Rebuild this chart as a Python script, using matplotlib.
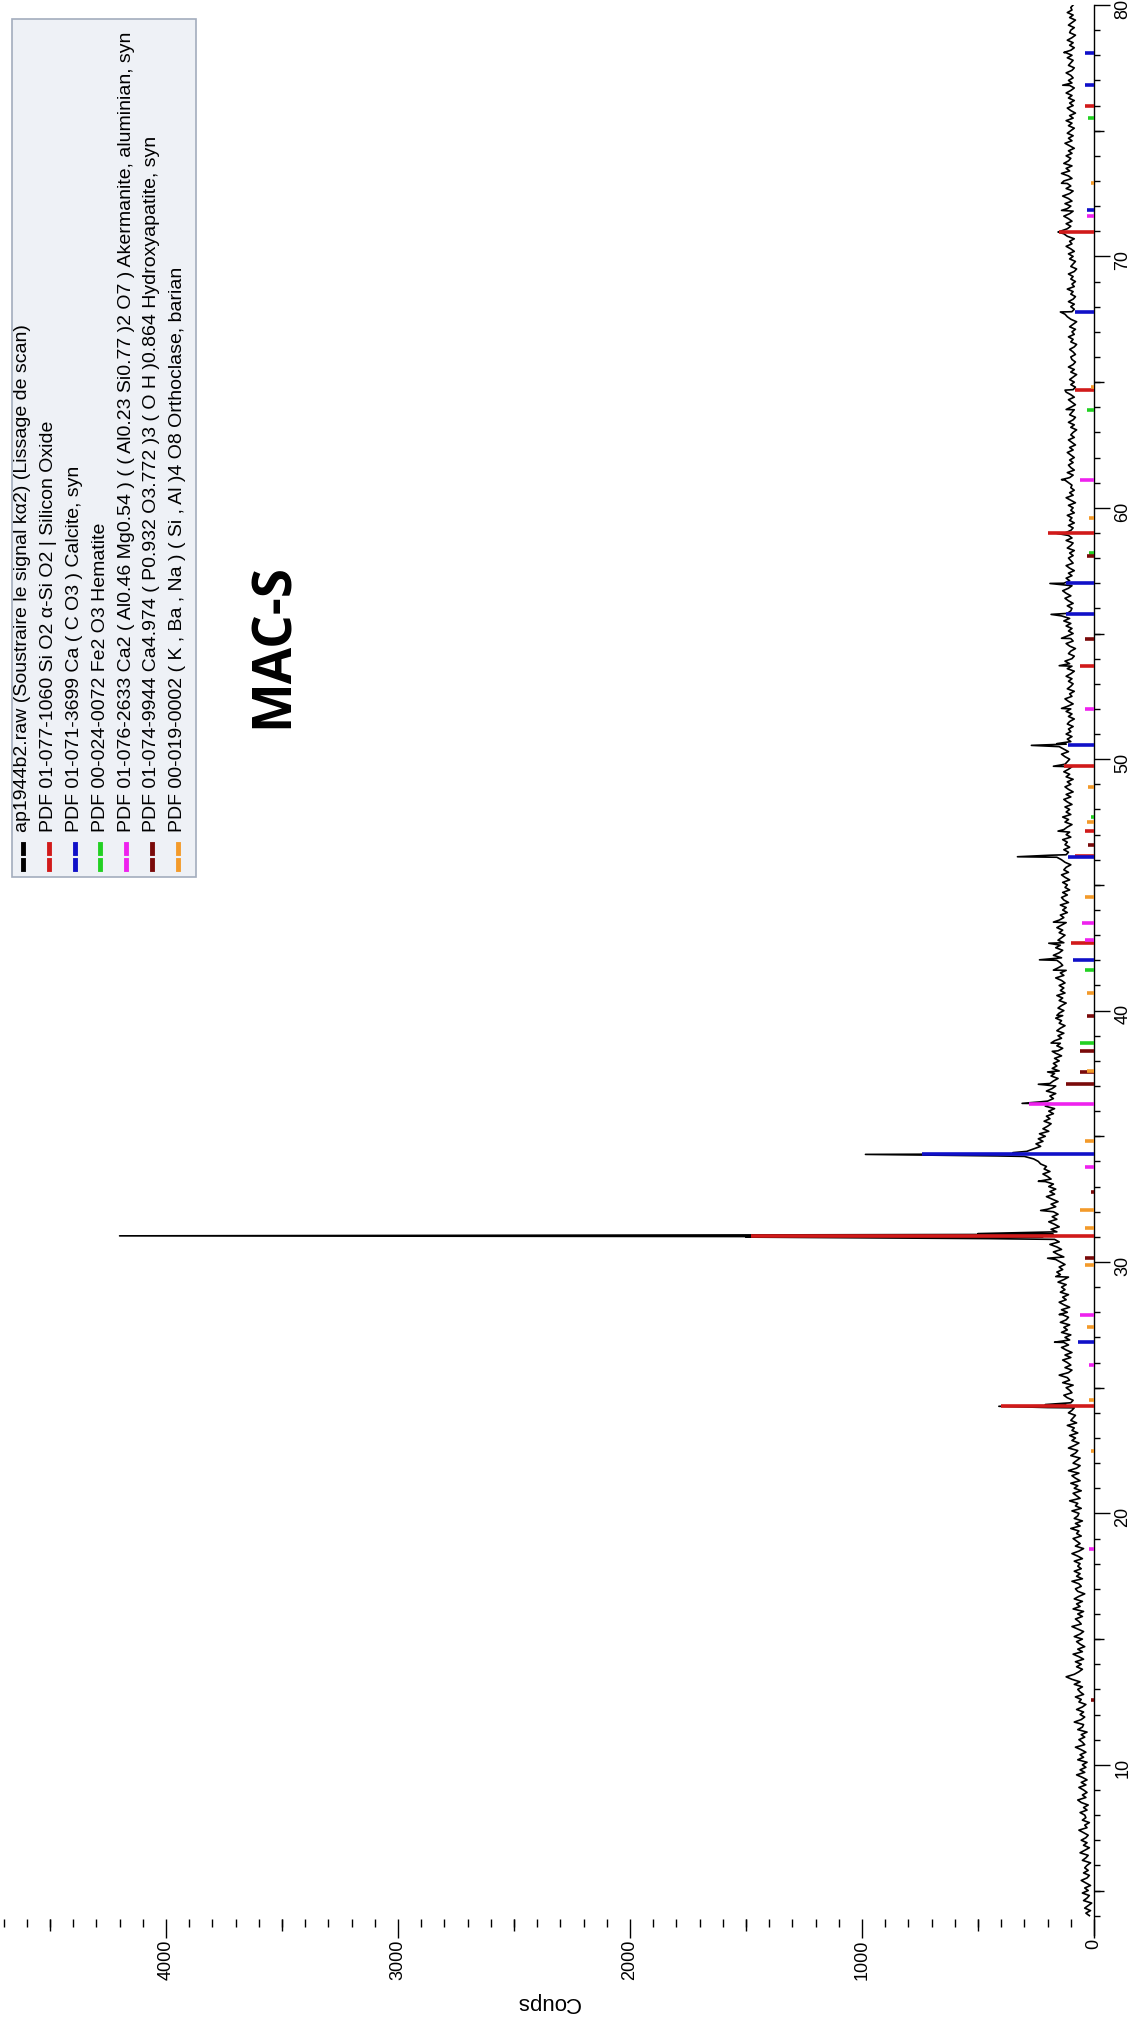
import numpy as np
import matplotlib
matplotlib.use('Agg')
import matplotlib.pyplot as plt
from matplotlib.ticker import MultipleLocator, FixedLocator, NullFormatter
from matplotlib.lines import Line2D
from matplotlib.patches import Rectangle

font = {'family': 'Liberation Sans', 'size': 13}
matplotlib.rc('font', **font)

W, H = 1136, 2022

# measured scan, background read every 0.1 deg from 4 to 80 (one row per degree)
theta_start = 4.0
theta_step = 0.1
background = [
    20, 35, 15, 40, 25, 10, 45, 30, 20, 50,
    25, 40, 15, 35, 55, 30, 20, 45, 25, 40,
    30, 15, 50, 35, 25, 60, 40, 20, 45, 30,
    55, 35, 25, 45, 65, 30, 40, 20, 50, 35,
    40, 60, 30, 45, 25, 55, 70, 35, 50, 30,
    45, 65, 35, 55, 30, 50, 75, 40, 60, 35,
    50, 30, 70, 45, 60, 35, 55, 80, 40, 50,
    65, 40, 55, 30, 70, 50, 45, 85, 55, 40,
    60, 45, 75, 50, 35, 65, 55, 80, 45, 60,
    70, 50, 85, 60, 95, 120, 85, 65, 50, 75,
    55, 80, 45, 65, 90, 50, 70, 40, 60, 75,
    50, 85, 60, 45, 70, 95, 55, 65, 80, 50,
    70, 45, 90, 60, 75, 50, 85, 65, 40, 70,
    80, 55, 65, 95, 50, 75, 60, 85, 55, 70,
    60, 85, 50, 70, 95, 65, 45, 80, 60, 75,
    90, 55, 75, 65, 100, 60, 80, 50, 85, 70,
    65, 95, 55, 80, 70, 105, 60, 75, 90, 55,
    85, 70, 100, 60, 80, 95, 65, 110, 75, 60,
    90, 75, 60, 100, 80, 70, 110, 85, 65, 95,
    80, 105, 70, 95, 85, 115, 75, 100, 90, 80,
    110, 95, 85, 120, 100, 90, 115, 130, 95, 105,
    120, 90, 135, 105, 115, 150, 110, 95, 125, 100,
    115, 135, 100, 125, 95, 120, 140, 110, 130, 105,
    125, 100, 140, 115, 130, 105, 145, 120, 110, 135,
    115, 140, 105, 130, 150, 120, 135, 110, 145, 125,
    140, 120, 155, 130, 110, 145, 160, 135, 150, 125,
    145, 165, 130, 155, 175, 140, 160, 190, 150, 170,
    220, 175, 160, 185, 150, 170, 195, 160, 180, 155,
    175, 200, 165, 185, 155, 180, 205, 170, 190, 165,
    195, 175, 210, 185, 200, 220, 190, 215, 205, 230,
    240, 260, 300, 330, 290, 260, 230, 250, 220, 240,
    210, 235, 195, 220, 200, 185, 215, 190, 205, 175,
    195, 170, 210, 185, 200, 175, 190, 165, 205, 180,
    165, 190, 175, 155, 185, 170, 150, 180, 160, 175,
    150, 170, 140, 165, 155, 135, 160, 145, 170, 140,
    155, 130, 160, 145, 125, 150, 140, 165, 135, 150,
    130, 155, 140, 120, 150, 135, 160, 125, 145, 130,
    150, 125, 140, 165, 130, 145, 120, 155, 135, 145,
    160, 140, 175, 150, 135, 165, 145, 130, 155, 140,
    125, 150, 135, 160, 140, 120, 150, 130, 145, 115,
    135, 120, 145, 110, 130, 140, 115, 135, 105, 125,
    115, 135, 105, 125, 140, 110, 130, 120, 100, 125,
    140, 160, 120, 110, 130, 105, 125, 115, 135, 100,
    120, 105, 130, 115, 95, 125, 110, 135, 100, 120,
    105, 125, 95, 115, 130, 100, 120, 90, 110, 125,
    100, 115, 90, 120, 105, 130, 110, 95, 125, 115,
    105, 125, 140, 110, 130, 150, 120, 100, 115, 95,
    120, 100, 110, 90, 115, 105, 85, 110, 95, 120,
    100, 115, 90, 110, 125, 95, 105, 85, 115, 100,
    90, 110, 95, 120, 100, 85, 115, 95, 105, 125,
    95, 85, 110, 100, 80, 105, 120, 90, 100, 115,
    90, 110, 95, 120, 100, 130, 105, 140, 115, 100,
    95, 115, 90, 110, 125, 100, 120, 135, 110, 95,
    130, 105, 120, 95, 110, 85, 105, 120, 90, 100,
    110, 90, 105, 85, 115, 100, 90, 120, 95, 110,
    125, 100, 90, 110, 85, 105, 95, 115, 85, 100,
    90, 110, 80, 100, 120, 90, 105, 85, 100, 95,
    110, 125, 105, 90, 115, 85, 100, 110, 90, 105,
    85, 100, 115, 90, 105, 80, 95, 110, 85, 100,
    90, 75, 100, 85, 110, 90, 80, 105, 95, 85,
    100, 80, 95, 110, 85, 100, 120, 90, 80, 100,
    85, 105, 90, 75, 100, 85, 110, 90, 80, 95,
    100, 80, 90, 105, 85, 75, 100, 90, 110, 85,
    95, 80, 105, 90, 75, 100, 115, 125, 95, 85,
    100, 85, 110, 90, 80, 100, 90, 115, 85, 95,
    80, 100, 90, 110, 85, 75, 100, 90, 80, 105,
    90, 110, 85, 100, 120, 95, 105, 85, 115, 130,
    145, 115, 100, 120, 95, 110, 130, 105, 90, 115,
    100, 125, 95, 110, 135, 105, 90, 120, 100, 115,
    130, 95, 110, 140, 105, 120, 95, 130, 110, 100,
    120, 95, 110, 85, 105, 125, 95, 110, 90, 115,
    100, 85, 110, 95, 120, 90, 105, 80, 100, 115,
    90, 105, 85, 110, 95, 120, 100, 85, 105, 95,
    110, 90, 100, 120, 95, 85, 110, 100, 90, 115,
    95, 120, 100, 85, 105, 90, 115, 95, 80, 105,
    100, 85, 110, 95, 80, 105, 90, 115, 95, 100,
    90,
]

# peak tops of the scan
peak_theta = [24.21, 24.26, 24.33, 26.81, 27.91, 29.42, 30.15,
              30.93, 30.99, 31.04, 31.08, 31.13, 32.05, 33.21,
              34.22, 34.28, 34.35, 36.31, 36.37, 37.07, 37.56, 38.38,
              38.71, 39.81, 41.61, 42.02, 42.68, 43.52, 46.12, 46.18,
              47.14, 49.72, 50.55, 50.62, 52.02, 53.72, 54.81, 55.76,
              56.99, 58.98, 61.12, 63.91, 64.68, 67.79, 70.97, 71.83,
              72.91, 76.81, 78.11]
peak_counts = [200, 410, 210, 170, 150, 165, 200,
               450, 1500, 4200, 1300, 500, 230, 240,
               420, 985, 350, 310, 230, 240, 200, 180,
               185, 160, 175, 235, 195, 175, 330, 190,
               155, 175, 270, 160, 140, 150, 140, 185,
               190, 160, 140, 120, 125, 145, 155, 140,
               140, 135, 130]

# reference patterns (stick positions and heights)
quartz_theta = [24.26, 31.04, 42.68, 46.16, 47.14, 49.72, 53.72, 58.98, 64.68, 70.97, 76.0]
quartz_counts = [400, 1480, 100, 80, 40, 130, 60, 200, 80, 150, 40]
calcite_theta = [26.80, 34.28, 42.02, 46.09, 50.55, 55.76, 56.99, 67.79, 71.83, 76.8, 78.1]
calcite_counts = [70, 740, 90, 110, 110, 120, 120, 80, 30, 40, 40]
hematite_theta = [38.70, 41.60, 47.70, 58.20, 63.90, 75.50]
hematite_counts = [60, 40, 15, 20, 30, 25]
akermanite_theta = [18.6, 25.9, 27.9, 33.77, 36.30, 42.8, 43.5, 52.0, 61.1, 71.6]
akermanite_counts = [20, 20, 60, 40, 280, 40, 50, 40, 60, 30]
apatite_theta = [12.57, 30.15, 32.8, 37.07, 37.56, 38.38, 39.8, 46.6, 54.8, 58.1]
apatite_counts = [15, 40, 15, 120, 60, 60, 30, 25, 40, 30]
orthoclase_theta = [22.5, 24.5, 27.4, 29.9, 31.35, 32.05, 34.8, 37.6, 40.7, 44.5, 47.5, 48.9, 59.6, 64.8, 72.9]
orthoclase_counts = [15, 20, 30, 40, 40, 60, 40, 30, 30, 40, 30, 25, 20, 15, 15]

legend_labels = [
    'ap1944b2.raw (Soustraire le signal k\u03b12) (Lissage de scan)',
    'PDF 01-077-1060 Si O2 \u03b1-Si O2 | Silicon Oxide',
    'PDF 01-071-3699 Ca ( C O3 ) Calcite, syn',
    'PDF 00-024-0072 Fe2 O3 Hematite',
    'PDF 01-076-2633 Ca2 ( Al0.46 Mg0.54 ) ( ( Al0.23 Si0.77 )2 O7 ) Akermanite, aluminian, syn',
    'PDF 01-074-9944 Ca4.974 ( P0.932 O3.772 )3 ( O H )0.864 Hydroxyapatite, syn',
    'PDF 00-019-0002 ( K , Ba , Na ) ( Si , Al )4 O8 Orthoclase, barian',
]
colors = ['#000000', '#d11a1a', '#1010c8', '#22d022', '#ee22ee', '#7a0a0a', '#f39a2a']

# the chart is shown turned a quarter turn: 2theta runs upward, counts run leftward
theta_min, theta_max = 3.23, 80.0
counts_max = 1094 / 0.232
spine_theta = 3.87

fig = plt.figure(figsize=(W / 100, H / 100), dpi=100)
ax = fig.add_axes([0, 1 - 1935 / H, 1094 / W, 1930 / H])

theta_all = np.concatenate([theta_start + theta_step * np.arange(len(background)), peak_theta])
counts_all = np.concatenate([background, peak_counts])
order = np.argsort(theta_all)
ax.plot(counts_all[order], theta_all[order], color='black', linewidth=1.2, zorder=2)

sticks = [(quartz_theta, quartz_counts), (calcite_theta, calcite_counts),
          (hematite_theta, hematite_counts), (akermanite_theta, akermanite_counts),
          (apatite_theta, apatite_counts), (orthoclase_theta, orthoclase_counts)]
for (th, ct), c in zip(sticks, colors[1:]):
    ax.hlines(th, 0, ct, color=c, linewidth=2.6, zorder=3)

ax.set_xlim(counts_max, 0)
ax.set_ylim(theta_min, theta_max)

for s in ['left', 'top', 'bottom']:
    ax.spines[s].set_visible(False)
ax.spines['right'].set_linewidth(1.0)
ax.spines['bottom'].set_position(('data', spine_theta))

ax.yaxis.tick_right()
ax.yaxis.set_major_locator(MultipleLocator(10))
ax.yaxis.set_minor_locator(MultipleLocator(1))
ax.tick_params(axis='y', which='major', length=11.5, width=1.0, pad=3, labelrotation=90, labelsize=13)
ax.tick_params(axis='y', which='minor', length=4.3, width=1.0)

ax.xaxis.set_major_locator(MultipleLocator(1000))
ax.xaxis.set_minor_locator(MultipleLocator(100))
ax.tick_params(axis='x', which='major', length=13.7, width=1.0, pad=1, labelrotation=90, labelsize=13)
ax.tick_params(axis='x', which='minor', length=5.8, width=1.0)

# medium ticks (every 5 deg, every 500 counts)
sec_y = ax.secondary_yaxis('right')
sec_y.yaxis.set_major_locator(FixedLocator(np.arange(5, 80, 10)))
sec_y.yaxis.set_major_formatter(NullFormatter())
sec_y.tick_params(length=7.5, width=1.0)
for s in sec_y.spines.values():
    s.set_visible(False)

sec_x = ax.secondary_xaxis((spine_theta - theta_min) / (theta_max - theta_min))
sec_x.xaxis.set_major_locator(FixedLocator(np.arange(500, 4800, 1000)))
sec_x.xaxis.set_major_formatter(NullFormatter())
sec_x.tick_params(length=8.6, width=1.0)
for s in sec_x.spines.values():
    s.set_visible(False)

fig.text(548 / W, 1 - 2003 / H, 'Coups', rotation=180, ha='center', va='center', fontsize=16)
fig.text(274 / W, 1 - 645 / H, 'MAC-S', rotation=90, ha='center', va='center',
         fontsize=38, fontweight='bold', family='Open Sans')

# legend box
box_top, box_bottom = 19, 877
fig.add_artist(Rectangle((12 / W, 1 - box_bottom / H), (196 - 12) / W, (box_bottom - box_top) / H,
                         transform=fig.transFigure, facecolor='#eef1f6',
                         edgecolor='#a3adbd', linewidth=1.2, zorder=5))
for i, (lab, c) in enumerate(zip(legend_labels, colors)):
    xc = (23 + 25.8 * i) / W
    fig.text(xc, 1 - 832 / H, lab, rotation=90, ha='center', va='bottom', fontsize=14, zorder=6)
    for y0, y1 in [(844, 853), (860, 869)]:
        fig.add_artist(Line2D([xc, xc], [1 - y0 / H, 1 - y1 / H], color=c,
                              linewidth=3.5, transform=fig.transFigure, zorder=6))

fig.savefig('out.png', dpi=100)
